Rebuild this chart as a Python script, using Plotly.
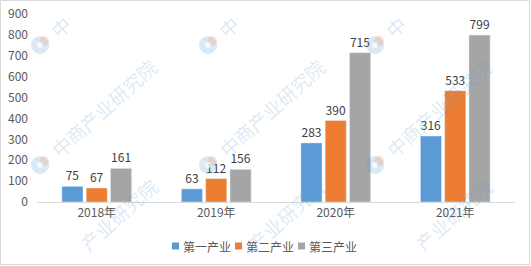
import math
import plotly.graph_objects as go

categories = ["2018年", "2019年", "2020年", "2021年"]
series_names = ["第一产业", "第二产业", "第三产业"]
primary = [75, 63, 283, 316]
secondary = [67, 112, 390, 533]
tertiary = [161, 156, 715, 799]
colors = ["#5B9BD5", "#ED7D31", "#A5A5A5"]
y_ticks = [0, 100, 200, 300, 400, 500, 600, 700, 800, 900]
watermark_text = "中商产业研究院"

font_family = "Noto Sans CJK SC, Noto Sans, sans-serif"

L, R, T, B = 37, 16, 14, 64
W, H = 531, 266
pw, ph = W - L - R, H - T - B


def px(x):
    return (x - L) / pw


def py(y):
    return (H - B - y) / ph


fig = go.Figure()
for name, vals, col in zip(series_names, [primary, secondary, tertiary], colors):
    fig.add_trace(go.Bar(
        x=categories, y=vals, name=name, marker_color=col,
        text=[str(v) for v in vals], textposition="outside",
        textfont=dict(size=12, color="#404040", family=font_family),
        cliponaxis=False, showlegend=False,
    ))

fig.update_layout(
    width=W, height=H,
    margin=dict(l=L, r=R, t=T, b=B, autoexpand=False),
    paper_bgcolor="white", plot_bgcolor="white",
    barmode="group", bargap=0.39, bargroupgap=0.13,
    font=dict(family=font_family, size=12, color="#595959"),
    showlegend=False,
    xaxis=dict(showline=True, linecolor="#D9D9D9", linewidth=1, ticks="",
               tickfont=dict(size=12, color="#595959")),
    yaxis=dict(range=[0, 900], tickvals=y_ticks, showgrid=False, zeroline=False,
               showline=False, ticks="", ticklabelstandoff=8,
               tickfont=dict(size=12, color="#595959")),
)

# manual legend (compact, like the reference)
legend_y_px = 246
sq = 7
starts = [172, 235, 298]
for name, col, x0 in zip(series_names, colors, starts):
    fig.add_shape(type="rect", xref="paper", yref="paper",
                  x0=px(x0), x1=px(x0 + sq),
                  y0=py(legend_y_px + sq / 2), y1=py(legend_y_px - sq / 2),
                  line=dict(width=0), fillcolor=col)
    fig.add_annotation(xref="paper", yref="paper", x=px(x0 + sq + 2),
                       y=py(legend_y_px), xanchor="left", yanchor="middle",
                       text=name, showarrow=False,
                       font=dict(size=12, color="#595959", family=font_family))

# watermarks: logo + rotated text, only the characters that fall inside the picture
ang = math.radians(42)
pitch = 19.5
wm_color = "rgba(91,155,213,0.22)"


def add_logo(lx, ly):
    r = 9
    fig.add_shape(type="circle", xref="paper", yref="paper",
                  x0=px(lx - r), x1=px(lx + r), y0=py(ly + r), y1=py(ly - r),
                  line=dict(width=0), fillcolor=wm_color, layer="above")
    fig.add_shape(type="circle", xref="paper", yref="paper",
                  x0=px(lx - 1), x1=px(lx + 9), y0=py(ly + 1), y1=py(ly - 9),
                  line=dict(width=0), fillcolor="rgba(237,125,49,0.2)", layer="above")
    fig.add_shape(type="circle", xref="paper", yref="paper",
                  x0=px(lx - 3), x1=px(lx + 3), y0=py(ly + 3), y1=py(ly - 3),
                  line=dict(width=0), fillcolor="rgba(255,255,255,0.7)", layer="above")


def add_wm_text(lx, ly, i0, i1):
    mid = (i0 + i1) / 2
    d = 86 + (mid - 3) * pitch
    cx, cy = lx + d * math.cos(ang), ly - d * math.sin(ang)
    fig.add_annotation(xref="paper", yref="paper", x=px(cx), y=py(cy),
                       xanchor="center", yanchor="middle", text=watermark_text[i0:i1 + 1],
                       textangle=-42, showarrow=False,
                       font=dict(size=19, color=wm_color, family=font_family))


for lx in [40, 208, 375]:
    add_logo(lx, 45)
    add_wm_text(lx, 45, 0, 0)
    add_logo(lx, 165)
    add_wm_text(lx, 165, 0, 6)
    add_wm_text(lx, 285, 2, 6)

fig.add_shape(type="rect", xref="paper", yref="paper",
              x0=px(0.5), x1=px(529.5), y0=py(264.5), y1=py(0.5),
              line=dict(color="#D9D9D9", width=1), fillcolor="rgba(0,0,0,0)", layer="below")

fig.write_html("out.html")
